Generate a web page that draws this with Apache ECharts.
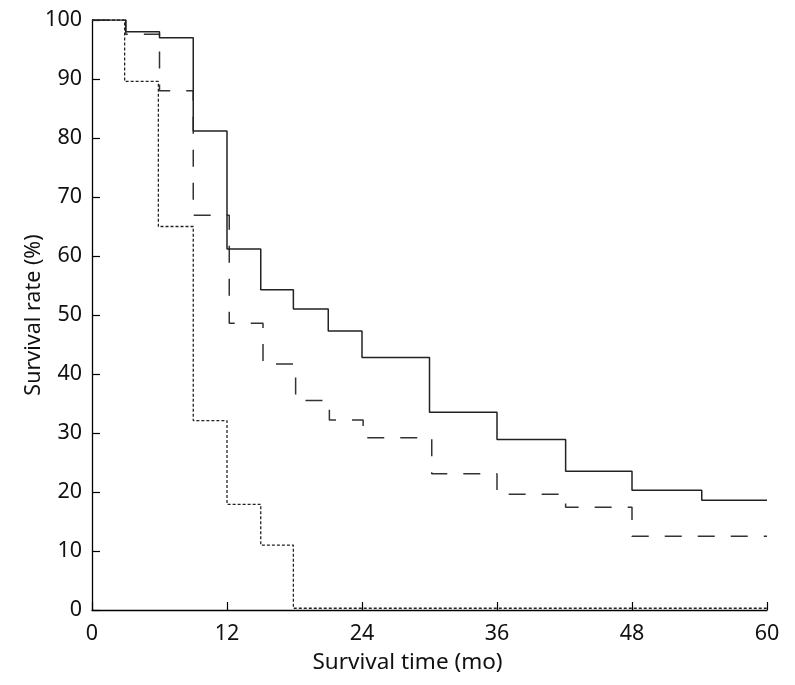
<!DOCTYPE html>
<html>
<head>
<meta charset="utf-8">
<script src="https://cdn.jsdelivr.net/npm/echarts@6/dist/echarts.min.js"></script>
<style>
html,body{margin:0;padding:0;background:#fff;}
#chart{width:795px;height:685px;}
</style>
</head>
<body>
<div id="chart"></div>
<script>
// Group 1 (solid line)
var solidTimes = [0, 3, 6, 9, 12, 15, 17.9, 21, 24, 30, 36, 42.1, 48, 54.2, 60];
var solidRates = [100, 98, 97, 81.2, 61.2, 54.3, 51, 47.3, 42.8, 33.5, 28.9, 23.5, 20.3, 18.6, 18.6];
// Group 2 (long dashed line)
var dashTimes = [0, 3, 6, 9, 12.2, 15.2, 18.1, 21.1, 24.1, 30.2, 36, 42.1, 48, 60];
var dashRates = [100, 97.6, 88, 66.9, 48.6, 41.7, 35.5, 32.2, 29.2, 23.1, 19.6, 17.4, 12.5, 12.5];
// Group 3 (dotted line)
var dotTimes = [0, 2.9, 5.9, 9, 12, 15, 17.9, 60];
var dotRates = [100, 89.6, 65, 32.1, 17.9, 11, 0.3, 0.3];

var xTicks = [0, 12, 24, 36, 48, 60];
var yTicks = [0, 10, 20, 30, 40, 50, 60, 70, 80, 90, 100];

function pairs(t, v) { return t.map(function (x, i) { return [x, v[i]]; }); }

var FONT = '"Noto Sans", "DejaVu Sans", sans-serif';
var chart = echarts.init(document.getElementById('chart'), null, {renderer: 'canvas'});
chart.setOption({
  animation: false,
  backgroundColor: '#fff',
  grid: {left: 92, right: 28, top: 20, bottom: 75, containLabel: false},
  xAxis: {
    type: 'value', min: xTicks[0], max: xTicks[xTicks.length - 1], interval: 12,
    name: 'Survival time (mo)', nameLocation: 'middle', nameGap: 41,
    nameTextStyle: {fontFamily: FONT, fontSize: 22.5, color: '#111', padding: [0, 44, 0, 0]},
    axisLine: {show: true, lineStyle: {color: '#000', width: 1.3}},
    axisTick: {show: true, inside: true, length: 8, lineStyle: {color: '#000', width: 1.2}},
    axisLabel: {fontFamily: FONT, fontSize: 21.5, color: '#111', margin: 13},
    splitLine: {show: false}
  },
  yAxis: {
    type: 'value', min: yTicks[0], max: yTicks[yTicks.length - 1], interval: 10,
    name: 'Survival rate (%)', nameLocation: 'middle', nameGap: 47, nameMoveOverlap: false,
    nameTextStyle: {fontFamily: FONT, fontSize: 21.5, color: '#111'},
    axisLine: {show: true, lineStyle: {color: '#000', width: 1.3}},
    axisTick: {show: true, inside: true, length: 8, lineStyle: {color: '#000', width: 1.2}},
    axisLabel: {fontFamily: FONT, fontSize: 21.5, color: '#111', margin: 10},
    splitLine: {show: false}
  },
  series: [
    {type: 'line', step: 'end', data: pairs(dotTimes, dotRates), symbol: 'none', z: 3,
     lineStyle: {color: '#222', width: 1.3, type: [3, 2]}},
    {type: 'line', step: 'end', data: pairs(dashTimes, dashRates), symbol: 'none', z: 4,
     lineStyle: {color: '#333', width: 1.5, type: [17, 16]}},
    {type: 'line', step: 'end', data: pairs(solidTimes, solidRates), symbol: 'none', z: 5,
     lineStyle: {color: '#222', width: 1.5, type: 'solid'}}
  ]
});
</script>
</body>
</html>
